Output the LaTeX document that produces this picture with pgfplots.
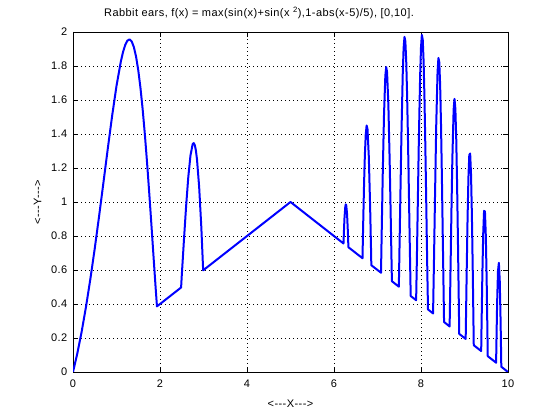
\documentclass[border=0pt]{standalone}
\usepackage{pgfplots}
\pgfplotsset{compat=1.18}
\usepackage{fontspec}
\setmainfont{Liberation Sans}
\newfontfamily\labfont[LetterSpace=4]{Liberation Sans}
\begin{document}
\fontsize{10bp}{12bp}\selectfont
\begin{tikzpicture}
\path[use as bounding box] (0,0) rectangle (560bp,420bp);
\begin{axis}[
  at={(73bp,48bp)}, anchor=south west,
  scale only axis, width=435bp, height=340bp,
  xmin=0, xmax=10, ymin=0, ymax=2,
  xtick={0,2,4,6,8,10},
  ytick={0,0.2,0.4,0.6,0.8,1,1.2,1.4,1.6,1.8,2},
  yticklabels={0,0.2,0.4,0.6,0.8,1,1.2,1.4,1.6,1.8,2},
  xticklabels={0,2,4,6,8,10},
  grid=major,
  major grid style={black, line width=0.6bp, dash pattern=on 1bp off 3bp},
  tick align=inside, major tick length=5bp,
  tick style={black, line width=0.8bp},
  axis line style={black, line width=0.8bp},
  ticklabel style={font=\labfont\fontsize{11bp}{13bp}\selectfont},
  yticklabel style={inner sep=0pt, xshift=-5.5bp},
  xticklabel style={inner sep=0pt, yshift=-7.5bp},
  title={Rabbit ears, f(x) = max(sin(x)+sin(x \textsuperscript{2}),1-abs(x-5)/5), [0,10].},
  title style={at={(axis description cs:0.4276,1.029)}, anchor=base, inner sep=0pt, font=\labfont\fontsize{11bp}{13bp}\selectfont},
  xlabel={<-{}-{}-X-{}-{}->},
  xlabel style={at={(axis description cs:0.5,-0.094)}, anchor=center, inner sep=0pt, font=\labfont\fontsize{11bp}{13bp}\selectfont},
  ylabel={<-{}-{}-Y-{}-{}->},
  ylabel style={at={(axis description cs:-0.0816,0.5)}, anchor=center, inner sep=0pt, font=\labfont\fontsize{11bp}{13bp}\selectfont},
]
\addplot[color=blue, line width=2bp, line join=round] coordinates {
(0,0)(0.1,0.1098)(0.2,0.2387)(0.3,0.3854)(0.4,0.5487)(0.5,0.7268)(0.6,0.9169)(0.7,1.1148)(0.8,1.3146)(0.9,1.5076)(1.0,1.6829)(1.1,1.8268)(1.15,1.8821)(1.2,1.9235)(1.25,1.9490)(1.3,1.9565)(1.35,1.9442)(1.4,1.9106)(1.45,1.8546)(1.5,1.7756)(1.55,1.6735)(1.6,1.5486)(1.65,1.4038)(1.7,1.2403)(1.75,1.0630)(1.8,0.8754)(1.85,0.6836)(1.9,0.4943)(1.93,0.386)
(2.485,0.497)(2.5,0.5653)(2.55,0.7752)(2.6,0.9745)(2.65,1.1458)(2.7,1.2728)(2.75,1.3395)(2.775,1.3467)(2.8,1.3349)(2.825,1.3033)(2.85,1.2516)(2.9,1.0889)(2.95,0.8510)(2.992,0.598)
(5,1)(6.218,0.756)
(6.24,0.9022)(6.26,0.9734)(6.27,0.9859)(6.28,0.9827)(6.3,0.9298)(6.32,0.8188)(6.331,0.734)
(6.656,0.669)(6.66,0.7327)(6.67,0.8625)(6.69,1.0946)(6.7,1.1931)(6.71,1.2776)(6.73,1.3985)(6.75,1.4501)(6.77,1.4291)(6.8,1.2675)(6.83,0.9777)(6.85,0.7368)(6.858,0.628)
(7.081,0.584)(7.085,0.6504)(7.1,0.8729)(7.12,1.1584)(7.15,1.5179)(7.18,1.7417)(7.2,1.7937)(7.22,1.7632)(7.25,1.5704)(7.28,1.2372)(7.3,0.9672)(7.32,0.6864)(7.331,0.534)
(7.4905,0.502)(7.5,0.6437)(7.52,0.9464)(7.55,1.3925)(7.58,1.7507)(7.6,1.9040)(7.62,1.9712)(7.64,1.9462)(7.66,1.8309)(7.68,1.6344)(7.7,1.3780)(7.72,1.0828)(7.74,0.7783)(7.75,0.631)(7.763,0.447)
(7.888,0.4224)(7.89,0.4516)(7.9,0.5894)(7.92,0.8926)(7.95,1.3576)(7.98,1.7424)(8.0,1.9097)(8.02,1.9827)(8.04,1.9542)(8.06,1.8258)(8.08,1.6079)(8.1,1.3245)(8.12,1.0040)(8.14,0.6778)(8.15,0.5227)(8.1608,0.368)
(8.277,0.3446)(8.28,0.3824)(8.3,0.6791)(8.32,1.0007)(8.35,1.4506)(8.38,1.7609)(8.4,1.8475)(8.42,1.8230)(8.44,1.6882)(8.46,1.4552)(8.48,1.1507)(8.5,0.8066)(8.52,0.4607)(8.5301,0.294)
(8.658,0.268)(8.66,0.3014)(8.68,0.6224)(8.7,0.9506)(8.72,1.2445)(8.75,1.5426)(8.77,1.6066)(8.79,1.5488)(8.81,1.3727)(8.83,1.0992)(8.85,0.7580)(8.87,0.3892)(8.879,0.224)
(9.027,0.1946)(9.03,0.2450)(9.05,0.5859)(9.07,0.8988)(9.09,1.1408)(9.11,1.2763)(9.13,1.2851)(9.15,1.1627)(9.17,0.9218)(9.19,0.5902)(9.21,0.2116)(9.213,0.1574)
(9.3835,0.1233)(9.39,0.2408)(9.41,0.5658)(9.43,0.8140)(9.45,0.9479)(9.47,0.9443)(9.49,0.8005)(9.51,0.5325)(9.53,0.1757)(9.534,0.0932)
(9.7267,0.0547)(9.73,0.1114)(9.75,0.4075)(9.77,0.5949)(9.79,0.6421)(9.81,0.5379)(9.83,0.2946)(9.84,0.1299)(9.846,0.0308)
(10,0)
};
\end{axis}
\end{tikzpicture}
\end{document}
